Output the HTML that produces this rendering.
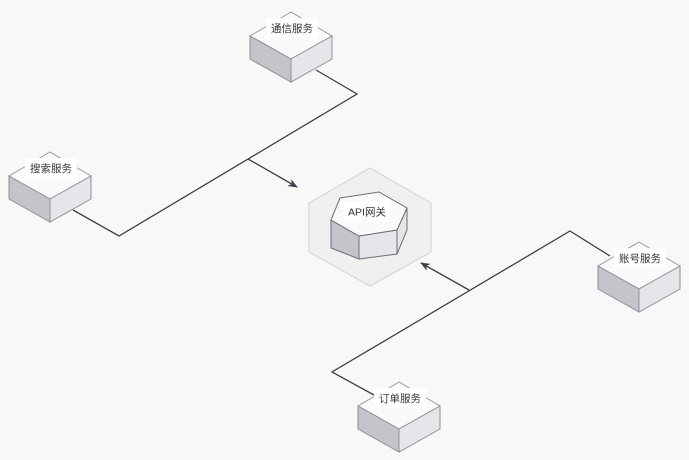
<!DOCTYPE html>
<html><head><meta charset="utf-8"><style>
html,body{margin:0;padding:0;background:#f8f8f8;}
svg{display:block;}
text{font-family:"Liberation Sans","Noto Sans CJK SC",sans-serif;font-size:10.5px;fill:#333;}
</style></head><body>
<svg width="689" height="460" viewBox="0 0 689 460" xmlns="http://www.w3.org/2000/svg">
<defs>
<marker id="ar" markerWidth="10" markerHeight="8" refX="9" refY="4" orient="auto" markerUnits="userSpaceOnUse">
<path d="M0,0 L10,4 L0,8 L3,4 Z" fill="#3f3f4d"/>
</marker>
<g id="cube">
<polygon points="0,0 -41,24 0,47 41,24" fill="#fafafa" stroke="#9a9aa3" stroke-width="1"/>
<polygon points="-41,24 0,47 0,70 -41,47" fill="#c4c4cb" stroke="#8f8f99" stroke-width="1"/>
<polygon points="41,24 0,47 0,70 41,47" fill="#e6e6ea" stroke="#8f8f99" stroke-width="1"/>
</g>
</defs>
<!-- connectors -->
<g fill="none" stroke="#3f3f4d" stroke-width="1.3">
<polyline points="316,70 357,94 119,236 73,210"/>
<line x1="248" y1="159" x2="297" y2="187" marker-end="url(#ar)"/>
<polyline points="610,256 570,231 332,372 374,395"/>
<line x1="469" y1="290" x2="421" y2="263" marker-end="url(#ar)"/>
</g>
<!-- gateway -->
<polygon points="370,168 431,203 431,252 370,286 309,252 309,203" fill="#f0f0f0" stroke="#cfcfcf" stroke-width="1"/>
<polygon points="331,220 359,236 359,259 331,248" fill="#c4c4cb" stroke="#6e6e7a" stroke-width="1"/>
<polygon points="359,236 397,230 397,254 359,259" fill="#e6e6ea" stroke="#6e6e7a" stroke-width="1"/>
<polygon points="397,230 407,208 407,230 397,254" fill="#e6e6ea" stroke="#6e6e7a" stroke-width="1"/>
<polygon points="340,198 379,192 407,208 397,230 359,236 331,220" fill="#fafafa" stroke="#6e6e7a" stroke-width="1"/>
<rect x="344" y="201" width="46" height="21" fill="#fff"/>
<text x="367" y="215.5" text-anchor="middle">API网关</text>
<!-- cubes -->
<use href="#cube" x="291" y="12"/>
<rect x="266" y="18" width="52" height="20" fill="#fff"/>
<text x="292" y="32" text-anchor="middle">通信服务</text>
<use href="#cube" x="50" y="152"/>
<rect x="25" y="158" width="52" height="20" fill="#fff"/>
<text x="51" y="172" text-anchor="middle">搜索服务</text>
<use href="#cube" x="639" y="242"/>
<rect x="614" y="248" width="52" height="20" fill="#fff"/>
<text x="640" y="262" text-anchor="middle">账号服务</text>
<use href="#cube" x="399" y="382"/>
<rect x="374" y="388" width="52" height="20" fill="#fff"/>
<text x="400" y="402" text-anchor="middle">订单服务</text>
</svg>
</body></html>
